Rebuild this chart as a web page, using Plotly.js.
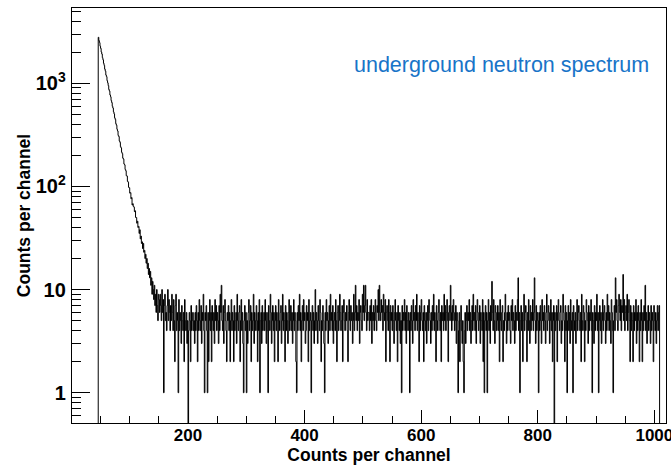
<!DOCTYPE html>
<html>
<head>
<meta charset="utf-8">
<script src="https://cdn.plot.ly/plotly-3.0.1.min.js"></script>
<style>
html,body{margin:0;padding:0;background:#ffffff;}
#chart{width:671px;height:467px;}
</style>
</head>
<body>
<div id="chart"></div>
<script>
// ---- data ----
const firstChannel = 46;           // first non-empty channel
const decayCounts = [
  2790, 2590, 2480, 2290, 2180, 2010, 1920, 1770, 1690, 1560, 1490, 1370, 1310, 1200, 1160, 1060, 1010, 950, 870, 840,
  770, 740, 680, 650, 598, 575, 528, 505, 462, 446, 405, 392, 358, 345, 312, 305, 276, 268, 243, 236,
  214, 208, 188, 184, 165, 162, 146, 142, 127, 126, 112, 110, 98, 97, 86, 87, 76, 78, 66, 68,
  64, 63, 57, 58, 50, 50, 44, 46, 40, 41, 35, 38, 31, 33, 28, 29, 25, 28, 23, 24,
  20, 22, 18, 20, 16, 18, 14, 16, 13, 15, 11, 13, 9, 12, 10, 8, 11, 7, 9, 6,
  10, 7, 5, 9
];
const flatCounts = [
  8,6,9,7,5,10,6,8,1,7,9,5,6,4,7,10,5,8,6,4,
  7,5,9,6,4,8,5,2,7,9,4,6,5,1,8,4,6,5,3,7,
  5,4,6,2,8,5,4,6,3,5,0,4,6,5,2,7,4,5,6,4,
  5,3,6,4,7,5,2,6,4,8,5,4,7,3,6,5,9,4,1,6,
  5,7,4,1,6,2,5,8,4,6,2,7,5,4,6,3,8,5,7,4,
  6,5,3,7,4,9,6,11,5,4,7,3,6,8,5,4,2,6,5,7,
  4,6,2,5,8,4,6,5,2,7,4,5,6,3,9,5,4,6,7,2,
  5,8,4,6,3,1,5,7,4,6,1,5,3,6,8,4,5,7,2,6,
  4,5,9,3,6,5,4,7,5,2,6,4,8,1,5,6,3,7,4,5,
  6,4,8,5,3,6,4,1,7,5,4,9,6,3,5,7,4,6,2,5,
  7,4,6,5,2,8,5,4,6,7,3,5,9,4,6,5,2,7,4,6,
  5,3,6,8,4,5,7,4,6,3,5,8,4,6,5,2,1,6,4,7,
  5,9,4,6,2,5,7,4,8,5,6,3,4,7,5,6,2,8,4,5,
  6,1,5,7,4,6,3,5,10,4,6,5,3,7,5,4,8,6,2,5,
  4,7,5,3,1,6,4,8,5,6,3,5,7,4,9,5,6,4,7,3,
  5,6,4,8,5,2,6,7,4,5,9,6,4,5,7,2,6,8,5,4,
  6,5,7,4,2,6,8,5,4,7,5,6,3,5,9,4,6,11,5,7,
  4,6,5,8,3,6,7,5,4,9,6,11,5,7,11,6,4,8,5,6,
  6,4,7,5,8,3,6,5,7,4,6,8,5,4,7,6,10,5,11,6,
  5,8,6,7,4,9,6,5,8,2,6,7,5,4,8,6,2,7,5,6,
  4,7,5,3,6,8,5,4,6,2,7,5,4,6,3,5,1,7,4,6,
  5,8,4,6,3,7,5,4,6,5,1,6,4,7,5,3,8,5,6,4,
  7,5,9,4,6,5,2,7,4,6,8,5,4,6,2,7,5,4,6,3,
  5,7,4,8,6,5,3,6,4,7,5,9,4,6,5,2,7,5,4,6,
  8,5,4,6,2,7,5,6,4,9,5,7,4,6,8,5,2,6,7,5,
  11,6,4,7,5,8,6,4,5,7,3,6,5,1,4,6,2,5,7,4,
  3,5,2,1,4,6,3,5,7,4,6,5,8,4,6,3,5,7,4,9,
  5,6,4,7,3,5,8,6,4,5,7,3,6,5,4,8,2,6,1,5,
  7,4,6,1,5,8,4,6,3,7,5,12,6,4,8,5,3,7,6,4,
  5,7,4,6,2,8,5,4,6,7,2,5,4,6,9,5,3,6,4,7,
  5,6,4,3,7,5,8,4,6,5,3,7,4,6,5,8,13,4,6,1,
  5,7,4,6,2,5,9,4,6,7,5,2,6,4,8,5,3,7,4,6,
  5,8,4,6,13,5,3,7,4,6,5,1,6,4,7,5,3,8,5,6,
  4,7,5,3,6,9,4,5,7,6,3,5,8,4,6,2,5,7,0,6,
  4,5,7,2,6,8,5,4,6,7,3,5,4,9,6,5,2,7,4,6,
  1,5,7,4,6,3,8,5,4,6,1,7,5,4,6,3,5,8,4,6,
  7,5,4,6,2,9,5,4,7,6,2,5,4,8,6,5,3,7,4,6,
  5,8,4,1,6,5,3,7,4,6,5,9,4,6,1,5,7,4,6,3,
  5,8,4,6,7,5,3,6,4,9,5,7,4,6,5,3,8,6,4,1,
  5,7,4,13,6,8,5,4,7,9,6,5,8,4,7,6,14,5,8,4,
  6,7,5,9,4,6,8,5,2,7,4,6,5,2,7,4,6,5,8,3,
  6,4,7,5,2,6,4,8,5,2,6,4,7,5,11,4,6,3,5,7,
  4,6,5,3,7,4,6,5,2,7,5,4,6,3,5,7,4,6,7
];
const xTickVals = [200, 400, 600, 800, 1000];
const axisTitleX = 'Counts per channel';
const axisTitleY = 'Counts per channel';
const labelText = 'underground neutron spectrum';

// ---- build the histogram outline (step line) ----
const counts = decayCounts.concat(flatCounts);
const channels = counts.map((_, i) => firstChannel + i);
const FLOOR = 0.01; // empty bins: drawn below the log axis range
const xs = [firstChannel].concat(channels, [firstChannel + counts.length]);
const ys = [FLOOR].concat(counts.map(v => (v > 0 ? v : FLOOR)), [FLOOR]);

const FONT = 'Liberation Sans, Arial, Helvetica, sans-serif';

const trace = {
  type: 'scatter',
  mode: 'lines',
  x: xs,
  y: ys,
  line: {shape: 'hv', color: '#000000', width: 1, simplify: false},
  hoverinfo: 'skip',
  showlegend: false
};

const layout = {
  width: 671,
  height: 467,
  margin: {l: 72, r: 5, t: 8, b: 44, pad: 0},
  paper_bgcolor: '#ffffff',
  plot_bgcolor: '#ffffff',
  showlegend: false,
  xaxis: {
    range: [1, 1020],
    tickmode: 'array',
    tickvals: xTickVals,
    ticktext: xTickVals.map(String),
    ticks: 'inside',
    ticklen: 13,
    tickwidth: 1,
    tickcolor: '#000000',
    ticklabeloverflow: 'allow',
    ticklabelstandoff: -3,
    minor: {tickmode: 'linear', tick0: 0, dtick: 50, ticks: 'inside', ticklen: 7, tickcolor: '#000000', tickwidth: 1, showgrid: false},
    showgrid: false,
    zeroline: false,
    showline: true,
    mirror: true,
    linecolor: '#000000',
    linewidth: 1,
    tickfont: {family: FONT, size: 17, weight: 'bold', color: '#000000'},
    title: {text: axisTitleX, font: {family: FONT, size: 17.5, weight: 'bold', color: '#000000'}, standoff: 1}
  },
  yaxis: {
    type: 'log',
    range: [-0.2936, 3.7297],
    tickmode: 'linear',
    tick0: 0,
    dtick: 1,
    exponentformat: 'power',
    ticks: 'inside',
    ticklen: 18,
    tickwidth: 1,
    tickcolor: '#000000',
    minor: {dtick: 'D1', ticks: 'inside', ticklen: 9, tickcolor: '#000000', tickwidth: 1, showgrid: false},
    showgrid: false,
    zeroline: false,
    showline: true,
    mirror: true,
    linecolor: '#000000',
    linewidth: 1,
    ticklabelstandoff: 2,
    tickfont: {family: FONT, size: 16, weight: 'bold', color: '#000000'},
    title: {text: axisTitleY, font: {family: FONT, size: 17.5, weight: 'bold', color: '#000000'}, standoff: 0}
  },
  annotations: [{
    text: labelText,
    xref: 'paper', yref: 'paper',
    x: 0.4714, y: 0.863,
    xanchor: 'left', yanchor: 'middle',
    showarrow: false,
    font: {family: FONT, size: 21.5, color: '#1874c8'}
  }]
};

Plotly.newPlot('chart', [trace], layout, {staticPlot: true, displayModeBar: false});
</script>
</body>
</html>
